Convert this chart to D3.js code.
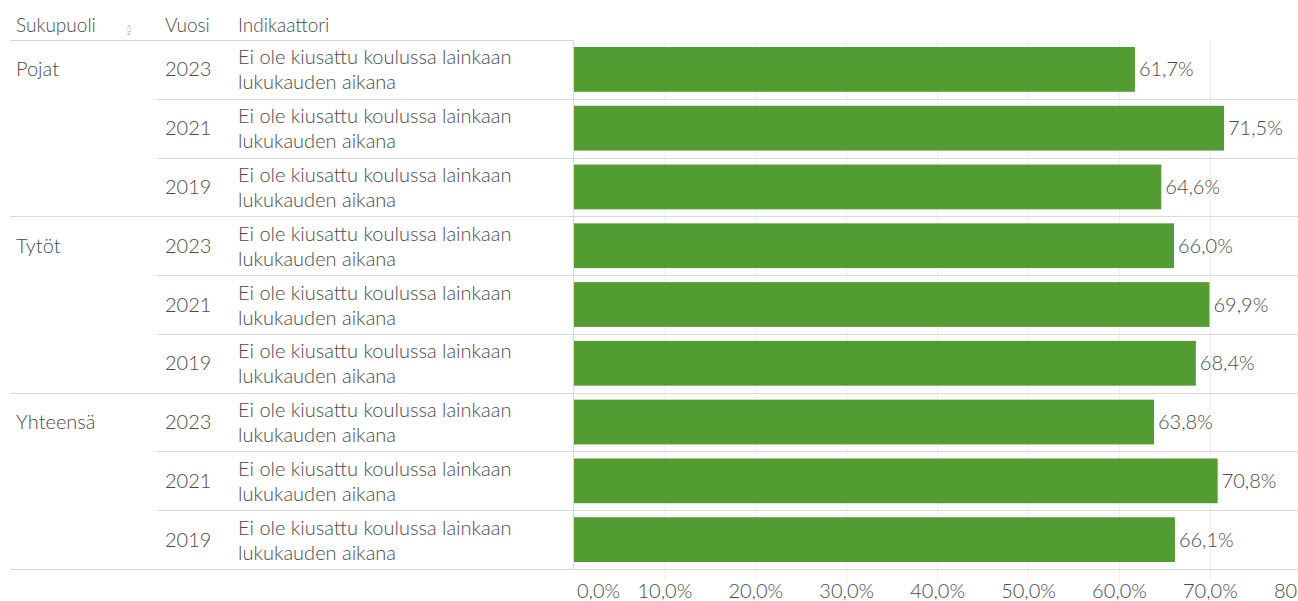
<!DOCTYPE html>
<html>
<head>
<meta charset="UTF-8">
<script src="https://d3js.org/d3.v7.min.js"></script>
<style>
    body { margin: 0; background: #fff; }
    text { font-family: Lato, sans-serif; font-weight: 300; fill: #4a4a4a; }
</style>
</head>
<body>
<svg id="chart" width="1298" height="601"></svg>
<script>
// data
var genders = ["Pojat", "Tytöt", "Yhteensä"];
var years = ["2023", "2021", "2019"];
var indicatorLines = ["Ei ole kiusattu koulussa lainkaan", "lukukauden aikana"];
var values = [
    [61.7, 71.5, 64.6],   // Pojat
    [66.0, 69.9, 68.4],   // Tytöt
    [63.8, 70.8, 66.1]    // Yhteensä
];
var ticks = [0, 10, 20, 30, 40, 50, 60, 70, 80];

var rows = [];
genders.forEach(function (g, gi) {
    years.forEach(function (y, yi) {
        rows.push({ gender: g, year: y, value: values[gi][yi], first: yi === 0, gi: gi, yi: yi });
    });
});

var svg = d3.select("#chart");
var fs = 20;
var paneLeft = 574;
var tableTop = 40, tableBottom = 569;

var x = d3.scaleLinear().domain([0, 80]).range([paneLeft, paneLeft + 727.3]);
var y = d3.scaleBand().domain(d3.range(rows.length)).range([tableTop, tableBottom]);

function fmt(v) { return v.toFixed(1).replace(".", ",") + "%"; }

// gridlines
svg.append("g").selectAll("line").data(ticks.slice(1)).enter().append("line")
    .attr("x1", function (d) { return x(d); }).attr("x2", function (d) { return x(d); })
    .attr("y1", tableTop).attr("y2", tableBottom + 12)
    .attr("stroke", "#eeeeee").attr("stroke-width", 1);

// headers
var hdr = svg.append("g").attr("font-size", fs - 1);
hdr.append("text").attr("x", 16).attr("y", 32).text("Sukupuoli");
hdr.append("text").attr("x", 165).attr("y", 32).text("Vuosi");
hdr.append("text").attr("x", 238).attr("y", 32).text("Indikaattori");
// sort icon
hdr.append("text").attr("x", 127).attr("y", 29).attr("font-size", 6).attr("fill", "#888").text("A");
hdr.append("text").attr("x", 127).attr("y", 35).attr("font-size", 6).attr("fill", "#888").text("Z");

// row separators
svg.append("line").attr("x1", 10).attr("x2", paneLeft).attr("y1", tableTop + 0.5).attr("y2", tableTop + 0.5)
    .attr("stroke", "#d6d6d6");
svg.append("g").selectAll("line").data(rows.slice(1)).enter().append("line")
    .attr("x1", function (d) { return d.first ? 10 : 157; })
    .attr("x2", 1298)
    .attr("y1", function (d, i) { return Math.round(y(i + 1)) + 0.5; })
    .attr("y2", function (d, i) { return Math.round(y(i + 1)) + 0.5; })
    .attr("stroke", "#d9d9d9");
svg.append("line").attr("x1", 10).attr("x2", 1298).attr("y1", tableBottom + 0.5).attr("y2", tableBottom + 0.5)
    .attr("stroke", "#d6d6d6");
// pane left border
svg.append("line").attr("x1", paneLeft - 0.5).attr("x2", paneLeft - 0.5).attr("y1", tableTop).attr("y2", tableBottom)
    .attr("stroke", "#d9d9d9");

// row labels
var lab = svg.append("g").attr("font-size", fs);
lab.selectAll(".g").data(rows.filter(function (d) { return d.first; })).enter().append("text")
    .attr("x", 16)
    .attr("y", function (d) { return y(d.gi * 3) + y.bandwidth() / 2 + 7; })
    .text(function (d) { return d.gender; });
lab.selectAll(".y").data(rows).enter().append("text")
    .attr("x", 165)
    .attr("y", function (d, i) { return y(i) + y.bandwidth() / 2 + 7; })
    .text(function (d) { return d.year; });
rows.forEach(function (d, i) {
    indicatorLines.forEach(function (t, li) {
        lab.append("text").attr("x", 238)
            .attr("y", y(i) + y.bandwidth() / 2 - 5 + li * 25)
            .text(t);
    });
});

// bars
svg.append("g").selectAll("rect").data(rows).enter().append("rect")
    .attr("x", x(0))
    .attr("y", function (d, i) { return y(i) + 7; })
    .attr("width", function (d) { return x(d.value) - x(0); })
    .attr("height", y.bandwidth() - 14)
    .attr("fill", "#539c31");

svg.append("g").attr("font-size", fs).selectAll("text").data(rows).enter().append("text")
    .attr("x", function (d) { return x(d.value) + 4; })
    .attr("y", function (d, i) { return y(i) + y.bandwidth() / 2 + 7; })
    .text(function (d) { return fmt(d.value); });

// x axis labels
svg.append("g").attr("font-size", fs).selectAll("text").data(ticks).enter().append("text")
    .attr("x", function (d) { return d === 0 ? x(d) + 3 : x(d); })
    .attr("y", 598)
    .attr("text-anchor", function (d) { return d === 0 ? "start" : "middle"; })
    .text(function (d) { return fmt(d); });
</script>
</body>
</html>
